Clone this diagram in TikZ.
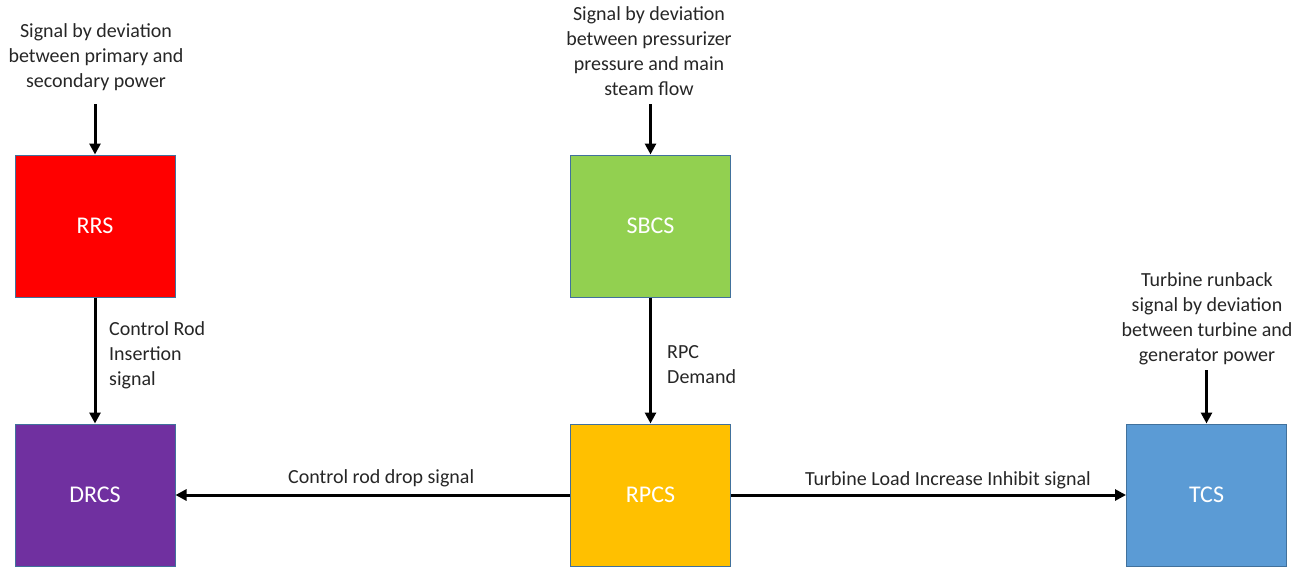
\documentclass[tikz,border=0pt]{standalone}
\usepackage{fontspec}
\setmainfont{Carlito}
\usetikzlibrary{arrows.meta}
\definecolor{txt}{HTML}{262626}
\definecolor{edge}{HTML}{41719C}
\definecolor{cred}{HTML}{FF0000}
\definecolor{cpurple}{HTML}{7030A0}
\definecolor{cgreen}{HTML}{92D050}
\definecolor{cyellow}{HTML}{FFC000}
\definecolor{cblue}{HTML}{5B9BD5}
\tikzset{
  sysbox/.style={draw=edge, line width=1pt, minimum width=160pt, minimum height=142pt, inner sep=0pt, text=white, font=\fontsize{24}{28}\selectfont},
  lbl/.style={text=txt, inner sep=0pt, font=\fontsize{20}{25}\selectfont},
  sig/.style={line width=3pt, -{Triangle[length=11pt,width=11pt]}}
}
\begin{document}
\begin{tikzpicture}[x=1pt,y=-1pt]
\useasboundingbox (0,0) rectangle (1309,568);
\node[sysbox, fill=cred] (rrs) at (95,226) {RRS};
\node[sysbox, fill=cpurple] (drcs) at (95,495) {DRCS};
\node[sysbox, fill=cgreen] (sbcs) at (650.5,226) {SBCS};
\node[sysbox, fill=cyellow] (rpcs) at (650.5,495) {RPCS};
\node[sysbox, fill=cblue] (tcs) at (1206.5,495) {TCS};

\node[lbl, align=center, anchor=base] (t1) at (96,87) {Signal by deviation\\between primary and\\secondary power};
\node[lbl, align=center, anchor=base] (t2) at (649,95) {Signal by deviation\\between pressurizer\\pressure and main\\steam flow};
\node[lbl, align=center, anchor=base] (t3) at (1207,361) {Turbine runback\\signal by deviation\\between turbine and\\generator power};

\coordinate (s1) at (95,104);
\coordinate (s2) at (650.5,104);
\coordinate (s3) at (1206.5,370);

\draw[sig] (s1) -- (rrs.north);
\draw[sig] (s2) -- (sbcs.north);
\draw[sig] (s3) -- (tcs.north);
\draw[sig] (rrs.south) -- (drcs.north);
\draw[sig] (sbcs.south) -- (rpcs.north);
\draw[sig] (rpcs.west) -- (drcs.east);
\draw[sig] (rpcs.east) -- (tcs.west);

\node[lbl, align=left, anchor=base west] (l1) at (109,385) {Control Rod\\Insertion\\signal};
\node[lbl, align=left, anchor=base west] (l2) at (667,383) {RPC\\Demand};
\node[lbl, anchor=base west] (l3) at (288,483) {Control rod drop signal};
\node[lbl, anchor=base west] (l4) at (805,485) {Turbine Load Increase Inhibit signal};
\end{tikzpicture}
\end{document}
